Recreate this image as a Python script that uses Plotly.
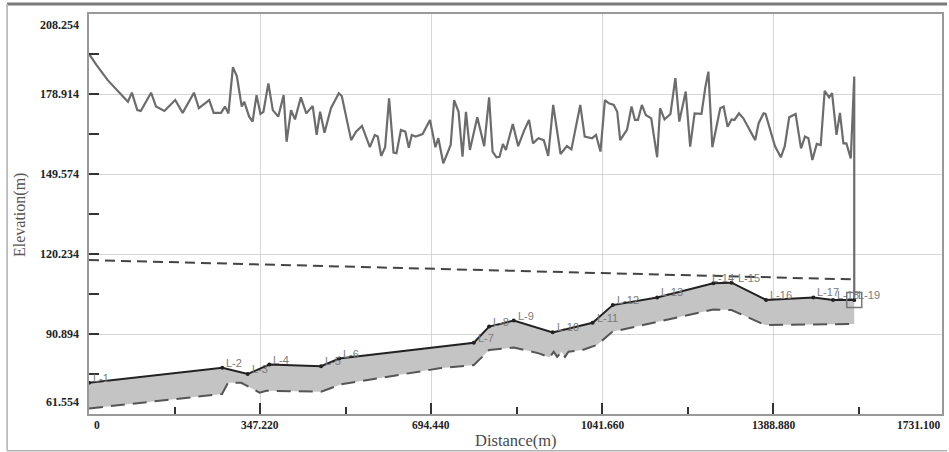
import plotly.graph_objects as go

# ---------------- data ----------------
ground_dist = [0, 15, 38, 60, 79, 87, 98, 105, 126, 136, 153, 175, 190, 213, 223, 244, 253, 268, 276, 283,
               292, 300, 310, 315, 325, 332, 340, 348, 354, 364, 373, 384, 395, 401, 410, 418, 430, 441, 454, 462,
               469, 478, 491, 507, 513, 532, 542, 554, 570, 580, 586, 593, 601, 609, 618, 624, 633, 642, 649, 655,
               663, 677, 692, 703, 709, 719, 734, 741, 750, 758, 765, 773, 788, 802, 812, 819, 827, 833, 840, 846,
               860, 871, 883, 893, 901, 912, 923, 932, 942, 957, 970, 979, 993, 997, 1006, 1021, 1029, 1038, 1047, 1055,
               1065, 1072, 1078, 1092, 1101, 1108, 1114, 1122, 1130, 1141, 1153, 1159, 1168, 1180, 1190, 1198, 1211, 1220, 1229, 1243,
               1251, 1257, 1265, 1281, 1288, 1296, 1304, 1310, 1319, 1328, 1352, 1359, 1369, 1373, 1392, 1404, 1412, 1421, 1434, 1445,
               1453, 1460, 1468, 1477, 1485, 1493, 1502, 1508, 1517, 1524, 1531, 1537, 1546, 1553, 1553]
ground_elev = [193.6, 189.6, 184.0, 179.6, 176.1, 179.4, 173.0, 172.7, 179.4, 174.3, 172.7, 176.7, 172.0, 179.4, 173.7, 176.7, 172.0, 172.0, 174.3, 171.8,
               188.7, 185.5, 174.3, 176.1, 170.6, 168.8, 178.5, 171.6, 172.4, 182.8, 173.0, 170.6, 178.5, 161.4, 173.0, 169.6, 177.7, 171.8, 174.5, 163.9,
               172.4, 164.7, 173.7, 179.2, 178.2, 162.0, 165.1, 167.2, 159.4, 163.9, 163.3, 156.2, 159.4, 177.3, 157.4, 157.2, 165.7, 165.1, 159.2, 163.9,
               163.3, 164.2, 169.4, 159.4, 162.7, 153.5, 160.2, 176.7, 172.4, 155.9, 172.4, 158.4, 170.4, 159.8, 177.7, 157.8, 155.7, 155.9, 160.6, 158.4,
               167.9, 159.8, 165.5, 169.4, 160.8, 162.7, 162.0, 156.2, 174.9, 156.9, 159.8, 158.6, 172.4, 174.9, 163.3, 162.7, 163.9, 157.8, 176.7, 175.5,
               174.9, 172.4, 162.0, 165.9, 174.3, 169.4, 169.4, 174.9, 171.2, 170.0, 155.7, 173.7, 169.6, 171.6, 184.7, 168.8, 179.8, 159.6, 171.8, 171.6,
               181.6, 187.1, 159.4, 173.7, 174.3, 166.9, 169.6, 169.4, 171.8, 170.0, 162.0, 168.2, 171.8, 171.6, 159.8, 155.7, 159.8, 170.4, 171.6, 159.0,
               163.3, 162.7, 154.7, 160.6, 160.2, 180.1, 177.7, 179.2, 163.9, 172.0, 160.8, 160.8, 155.3, 185.3, 102.6]

node_names = ["L-1", "L-2", "L-3", "L-4", "L-5", "L-6", "L-7", "L-8", "L-9", "L-10",
              "L-11", "L-12", "L-13", "L-14", "L-15", "L-16", "L-17", "L-18", "L-19"]
node_dist = [0, 270.6, 322, 366, 471, 508, 781, 812, 862, 941, 1022, 1063, 1153, 1267, 1304, 1374, 1470, 1510, 1553]
node_elev = [73.0, 78.5, 76.2, 79.7, 79.1, 81.9, 87.7, 93.6, 95.8, 91.5, 95.0, 101.5, 104.3, 109.5, 109.7, 103.4, 104.3, 103.4, 103.4]

invert_dist = [0, 270, 282, 309, 346, 360, 471, 512, 711, 781, 812, 862, 913, 924, 935, 943, 950, 959, 966, 973,
               1001, 1031, 1062, 1267, 1304, 1372, 1553]
invert_elev = [63.6, 68.9, 73.0, 73.0, 69.4, 70.1, 69.7, 72.5, 78.3, 79.5, 85.0, 85.9, 83.8, 83.0, 82.3, 84.4, 82.5, 84.4, 82.5, 84.4,
               85.0, 86.9, 91.7, 99.9, 99.7, 94.2, 94.6]

hgl_dist = [0, 1553]
hgl_elev = [118.0, 110.9]

x_ticks = [0, 347.22, 694.44, 1041.66, 1388.88, 1731.1]
y_ticks = [61.554, 90.894, 120.234, 149.574, 178.914, 208.254]

# ---------------- figure ----------------
fig = go.Figure()

# filled pipe band
fig.add_trace(go.Scatter(
    x=node_dist + invert_dist[::-1], y=node_elev + invert_elev[::-1],
    fill="toself", fillcolor="#c4c4c4", line=dict(width=0), mode="lines",
    hoverinfo="skip", showlegend=False))

# invert (dashed)
fig.add_trace(go.Scatter(x=invert_dist, y=invert_elev, mode="lines",
                         line=dict(color="#555555", width=2, dash="14px,8px"), showlegend=False))

# hydraulic grade line (dashed)
fig.add_trace(go.Scatter(x=hgl_dist, y=hgl_elev, mode="lines",
                         line=dict(color="#444444", width=2, dash="10px,6px"), showlegend=False))

# ground profile
fig.add_trace(go.Scatter(x=ground_dist, y=ground_elev, mode="lines",
                         line=dict(color="#6c6c6c", width=2.2), showlegend=False))

# pipe crown with nodes
fig.add_trace(go.Scatter(x=node_dist, y=node_elev, mode="lines+markers",
                         line=dict(color="#222222", width=2),
                         marker=dict(color="#222222", size=4), showlegend=False))

# box marker at last node
fig.add_trace(go.Scatter(x=node_dist[-1:], y=node_elev[-1:], mode="markers",
                         marker=dict(symbol="square-open", size=15, color="#777777", line=dict(width=1.5)),
                         showlegend=False))

annotations = []
for name, xd, yd in zip(node_names, node_dist, node_elev):
    xs = 2
    if name == "L-14":
        xs = -3
    elif name == "L-15":
        xs = 4
    annotations.append(dict(x=xd, y=yd, xref="x", yref="y", text=name, showarrow=False,
                            xanchor="left", yanchor="middle", xshift=xs, yshift=5,
                            font=dict(family="Liberation Sans", size=11, color="#7a7a7a")))

tick_font = dict(family="Liberation Serif", size=11.5, color="#222222")
for i, v in enumerate(x_ticks):
    txt = "0" if v == 0 else f"{v:.3f}"
    if i == 0:
        anc, xs = "left", 3
    elif i == len(x_ticks) - 1:
        anc, xs = "right", 0
    else:
        anc, xs = "center", 0
    annotations.append(dict(x=v, y=0, xref="x", yref="paper", text=f"<b>{txt}</b>", showarrow=False,
                            xanchor=anc, yanchor="middle", xshift=xs, yshift=-11, font=tick_font))
for i, v in enumerate(y_ticks):
    if i == 0:
        anc, ys = "bottom", 3
    elif i == len(y_ticks) - 1:
        anc, ys = "top", -2
    else:
        anc, ys = "middle", 0
    annotations.append(dict(x=0, y=v, xref="paper", yref="y", text=f"<b>{v:.3f}</b>", showarrow=False,
                            xanchor="right", yanchor=anc, xshift=-8, yshift=ys,
                            font=dict(family="Liberation Serif", size=12, color="#222222")))

annotations.append(dict(x=0.5, y=0, xref="paper", yref="paper", text="Distance(m)", showarrow=False,
                        xanchor="center", yanchor="middle", yshift=-26, xshift=0,
                        font=dict(family="Liberation Serif", size=16.5, color="#4a4a4a")))
annotations.append(dict(x=0, y=0.5, xref="paper", yref="paper", text="Elevation(m)", showarrow=False,
                        textangle=-90, xanchor="center", yanchor="middle", xshift=-69, yshift=-1,
                        font=dict(family="Liberation Serif", size=16, color="#555555")))

shapes = [
    dict(type="line", xref="paper", yref="paper", x0=-0.096, x1=1.006, y0=1.025, y1=1.025,
         line=dict(color="#7a7a7a", width=3)),
    dict(type="line", xref="paper", yref="paper", x0=-0.096, x1=-0.096, y0=1.025, y1=-0.092,
         line=dict(color="#b0b0b0", width=1.5)),
    dict(type="line", xref="paper", yref="paper", x0=-0.096, x1=1.006, y0=-0.092, y1=-0.092,
         line=dict(color="#b0b0b0", width=1.5)),
]

fig.update_layout(
    width=949, height=452,
    margin=dict(l=89, r=5, t=14, b=38),
    paper_bgcolor="white", plot_bgcolor="white",
    annotations=annotations, shapes=shapes,
    xaxis=dict(range=[0, 1731.1], tickmode="array", tickvals=x_ticks[1:-1], showticklabels=False,
               ticks="inside", ticklen=11, tickwidth=1.5, tickcolor="#333333",
               showgrid=True, gridcolor="#d6d6d6", gridwidth=1, zeroline=False,
               showline=True, linecolor="#999999", linewidth=1.5, mirror=True,
               minor=dict(tickvals=[173.61, 520.83, 868.05, 1215.27, 1562.49], ticks="inside",
                          ticklen=7, tickwidth=1.5, tickcolor="#333333", showgrid=False)),
    yaxis=dict(range=[61.554, 208.254], tickmode="array", tickvals=y_ticks[1:-1], showticklabels=False,
               ticks="inside", ticklen=10, tickwidth=1.5, tickcolor="#333333",
               showgrid=True, gridcolor="#d6d6d6", gridwidth=1, zeroline=False,
               showline=True, linecolor="#999999", linewidth=1.5, mirror=True,
               minor=dict(tickvals=[76.224, 105.564, 134.904, 164.244, 193.584], ticks="inside",
                          ticklen=10, tickwidth=1.5, tickcolor="#333333", showgrid=False)),
)

fig.write_html("out.html", config={"displayModeBar": False},
               post_script="document.body.style.margin='0';")
